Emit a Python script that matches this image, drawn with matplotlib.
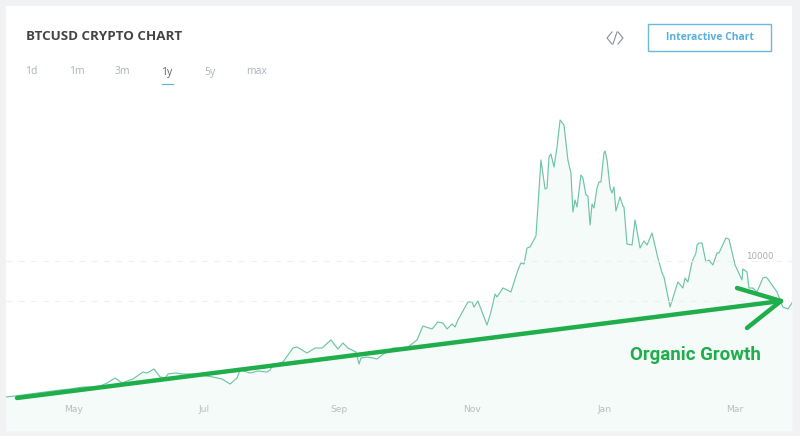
import matplotlib
matplotlib.use("Agg")
import matplotlib.pyplot as plt
from matplotlib.lines import Line2D
from matplotlib.patches import Rectangle

# === DATA ===
days = [-31.7, -27.1, -20.2, -13.3, -6.4, -1.8, 4.1, 8.3, 12, 15.2, 18.9, 22.1, 24.4, 27.1, 31.7, 33.6,
        36.8, 39.6, 41.9, 43.2, 46.5, 49.7, 53.4, 58, 63.9, 68.1, 71.8, 75, 76.4, 81, 84.6, 88.8,
        90.2, 91.5, 96.1, 100.7, 102.6, 107.2, 110.9, 114.1, 118.2, 121.4, 123.7, 126, 129.7, 131.1, 132, 134.8,
        137.5, 139.4, 141.7, 146.7, 149, 153.6, 157.8, 160.5, 164.7, 167.4, 169.7, 171.6, 173.9, 175.3, 176.6, 181.2,
        183.1, 184, 185.8, 190, 191.8, 193.7, 194.6, 197.3, 199.2, 201, 204.2, 205.6, 207, 208.4, 209.8, 212.5,
        213.4, 214.8, 216.7, 217.6, 218.5, 219.4, 220.8, 222.2, 223.6, 225.4, 227.2, 228.6, 229.5, 230.5, 231.4, 233.2,
        234.1, 235.5, 236.4, 237.4, 238.3, 239.2, 240.6, 241.5, 242.4, 243.8, 244.3, 245.2, 246.6, 247.5, 248.4, 249.3,
        251.2, 252.5, 253, 254.4, 256.7, 258.1, 260.4, 262.2, 263.6, 265.9, 268.6, 270.5, 271.4, 274.2, 275.5, 277.8,
        280.1, 281.1, 282.4, 284.3, 286.1, 286.6, 287.5, 288.9, 290.7, 292.1, 293.9, 295.8, 296.7, 299.9, 301.3, 304.1,
        307.3, 307.7, 309.6, 310.5, 312.3, 314.2, 316.9, 318.3, 319.2, 323.4, 326.1, 328.4, 330.3]
prices = [1500, 1562, 1688, 1812, 1938, 2000, 2125, 2125, 2188, 2375, 2688, 2375, 2500, 2625, 3062, 3000,
          3250, 2750, 2688, 2938, 3000, 2938, 2938, 2875, 2750, 2625, 2312, 2688, 3188, 3000, 3125, 3062,
          3188, 3500, 3688, 4562, 4625, 4250, 4562, 4562, 5062, 4500, 4875, 4562, 4312, 3562, 3938, 4000,
          3938, 3875, 4125, 4562, 4562, 4625, 5062, 5938, 5750, 6188, 6125, 5750, 6062, 5875, 6312, 7438,
          7438, 7125, 7500, 6000, 6812, 7938, 7750, 8312, 8188, 8062, 9438, 9875, 9812, 10812, 10875, 11562,
          13375, 16312, 14500, 14562, 16500, 16688, 15875, 17125, 18812, 18500, 16312, 15500, 13062, 13812, 13375, 15375,
          15188, 14125, 14062, 12250, 13562, 13312, 14562, 14938, 14938, 16750, 16875, 16312, 14562, 14250, 14625, 13125,
          14000, 13438, 13375, 11062, 11000, 12562, 10812, 11250, 11000, 11750, 10188, 9250, 9000, 7125, 7688, 8688,
          8312, 8938, 8688, 9938, 10500, 11000, 11125, 11125, 9938, 10062, 9750, 10500, 10500, 11438, 11375, 9750,
          8812, 9500, 9312, 8312, 8312, 8062, 8938, 9000, 8875, 8062, 7125, 7000, 7375]

month_ticks = [0, 60, 122, 183, 244, 304]
month_labels = ["May", "Jul", "Sep", "Nov", "Jan", "Mar"]
price_ticks = [7500, 10000]
price_labels = ["", "10000"]
tab_labels = ["1d", "1m", "3m", "1y", "5y", "max"]


# reference pixel -> figure fraction
def fx(x):
    return x / 800


def fy(y):
    return 1 - y / 436


# === GRAFICO ===
fig = plt.figure(figsize=(8, 4.36), dpi=100, facecolor="#f1f2f4")
ax = fig.add_axes([fx(6), fy(431), fx(792) - fx(6), fy(6) - fy(431)], facecolor="white")

ax.fill_between(days, prices, -625, color="#f4fbf8", linewidth=0)
ax.plot(days, prices, color="#6fc4a8", linewidth=0.85)

ax.set_xlim(-31.3, 330.3)
ax.set_ylim(-625, 25937)
for s in ax.spines.values():
    s.set_visible(False)

ax.set_axisbelow(False)
ax.set_xticks(month_ticks, month_labels)
ax.tick_params(axis="x", length=0, direction="in", pad=-19, labelsize=6.6, labelcolor="#b9bdc0")
ax.yaxis.tick_right()
ax.set_yticks(price_ticks, price_labels)
ax.tick_params(axis="y", length=0, direction="in", pad=-13.5, labelsize=6.2, labelcolor="#a9adb0")
for lab in ax.get_yticklabels():
    lab.set_ha("right")
    lab.set_va("bottom")
ax.grid(axis="y", color="#efefef", linewidth=0.8, linestyle=(0, (5, 6)))

# intestazione
fig.text(fx(26), fy(37), "BTCUSD CRYPTO CHART", family="Open Sans", fontweight="bold",
         fontsize=9.6, color="#444444", va="center")
tab_x = [31.5, 76.5, 122.5, 167, 209.5, 256.5]
for lab, x in zip(tab_labels, tab_x):
    col = "#5d6670" if lab == "1y" else "#aab3bd"
    fig.text(fx(x), fy(72), lab, family="Open Sans", fontsize=7.5, color=col, ha="center", va="center")
fig.add_artist(Line2D([fx(162), fx(173)], [fy(84.5), fy(84.5)], color="#5fb3d0", linewidth=0.9))

# icona </>
for xs, ys in [([612, 607, 612], [32, 38, 44]), ([613, 617], [44, 32]), ([618, 623, 618], [32, 38, 44])]:
    fig.add_artist(Line2D([fx(x) for x in xs], [fy(y) for y in ys], color="#8a8f96", linewidth=0.8))

fig.add_artist(Rectangle((fx(648), fy(51)), fx(123), 27 / 436, transform=fig.transFigure,
                         facecolor="white", edgecolor="#6cb9dd", linewidth=1))
fig.text(fx(709.5), fy(38), "Interactive Chart", family="Open Sans", fontweight="bold",
         fontsize=7.5, color="#5ab0dc", ha="center", va="center")

# freccia
arrow_green = "#1fae4b"
for x0, y0, x1, y1 in [(17, 398, 781, 301), (737, 288, 781, 301), (747, 328, 781, 301)]:
    fig.add_artist(Line2D([fx(x0), fx(x1)], [fy(y0), fy(y1)], color=arrow_green, linewidth=3.2,
                          solid_capstyle="round"))
fig.text(fx(630), fy(355), "Organic Growth", family="Roboto", fontweight="bold",
         fontsize=13.5, color=arrow_green, va="center")

fig.savefig("out.png", dpi=100, facecolor=fig.get_facecolor())
